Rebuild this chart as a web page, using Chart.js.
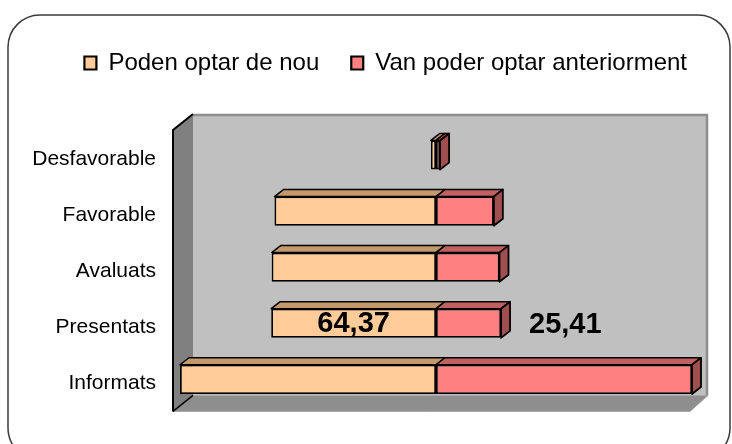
<!DOCTYPE html>
<html><head><meta charset="utf-8">
<script src="https://cdn.jsdelivr.net/npm/chart.js@4/dist/chart.umd.min.js"></script>
<style>html,body{margin:0;padding:0;background:#fff}#wrap{width:732px;height:444px;position:relative}</style>
</head><body><div id="wrap"><canvas id="c" width="732" height="444"></canvas></div>
<script>
const categories = ['Desfavorable', 'Favorable', 'Avaluats', 'Presentats', 'Informats'];
const podenValues = [2.0, 63.1, 64.2, 64.37, 100];
const vanValues = [1.6, 22.6, 24.8, 25.41, 100];
const seriesNames = ['Poden optar de nou', 'Van poder optar anteriorment'];
const labelledCategory = 'Presentats';
const splitValue = 100;
const axisMax = 200;

// invisible spacer so each bar meets at the common split point
const spacer = podenValues.map(v => splitValue - v);

const FONT = '"Liberation Sans", Arial, sans-serif';
const DX = 9, DY = 7;

function poly(ctx, pts, fill, lw) {
  ctx.beginPath();
  ctx.moveTo(pts[0][0], pts[0][1]);
  for (let i = 1; i < pts.length; i++) ctx.lineTo(pts[i][0], pts[i][1]);
  ctx.closePath();
  ctx.fillStyle = fill; ctx.fill();
  ctx.lineWidth = lw || 1.5; ctx.strokeStyle = '#000'; ctx.lineJoin = 'round'; ctx.stroke();
}

const walls = {
  id: 'walls',
  beforeDraw(chart) {
    const {ctx, chartArea: a} = chart;
    ctx.save();
    ctx.fillStyle = '#fff'; ctx.fillRect(0, 0, chart.width, chart.height);
    ctx.beginPath();
    ctx.roundRect(8, 15, 722, 445, 32);
    ctx.strokeStyle = '#3a3a3a'; ctx.lineWidth = 1.5; ctx.stroke();

    const fl = a.left - 7, bl = a.left + 13, ft = a.top + 3, bt = a.top - 13;
    const fb = a.bottom + 4, bb = a.bottom - 12, br = a.right + 16, fr = a.right - 2;
    // back wall
    ctx.fillStyle = '#C0C0C0';
    ctx.fillRect(bl, bt, br - bl, bb - bt);
    ctx.strokeStyle = '#8E8E8E'; ctx.lineWidth = 2.5;
    ctx.beginPath(); ctx.moveTo(bl, bt + 1); ctx.lineTo(br - 1, bt + 1); ctx.lineTo(br - 1, bb); ctx.stroke();
    // floor
    ctx.beginPath();
    ctx.moveTo(fl, fb); ctx.lineTo(bl, bb); ctx.lineTo(br, bb); ctx.lineTo(fr, fb); ctx.closePath();
    ctx.fillStyle = '#8E8E8E'; ctx.fill();
    ctx.strokeStyle = '#A6A6A6'; ctx.lineWidth = 1; ctx.stroke();
    // left wall
    ctx.beginPath();
    ctx.moveTo(fl, ft); ctx.lineTo(bl, bt); ctx.lineTo(bl, bb); ctx.lineTo(fl, fb); ctx.closePath();
    ctx.fillStyle = '#808080'; ctx.fill();
    ctx.strokeStyle = '#000'; ctx.lineWidth = 2;
    ctx.beginPath(); ctx.moveTo(fl, fb); ctx.lineTo(fl, ft); ctx.lineTo(bl, bt); ctx.stroke();
    ctx.lineWidth = 1.5;
    ctx.beginPath(); ctx.moveTo(fl, fb); ctx.lineTo(bl, bb); ctx.stroke();
    ctx.restore();
  }
};

const faces = {
  id: 'faces',
  afterDatasetsDraw(chart) {
    const ctx = chart.ctx;
    const tops = ['#C49A6C', '#C06060'];
    const sideColor = '#A04F4F';
    const metas = [1, 2].map(i => chart.getDatasetMeta(i));
    ctx.save();
    categories.forEach((c, j) => {
      metas.forEach((m, k) => {
        const p = m.data[j].getProps(['x', 'y', 'base', 'height'], true);
        const t = p.y - p.height / 2;
        poly(ctx, [[p.base, t], [p.base + DX, t - DY], [p.x + DX, t - DY], [p.x, t]], tops[k], 1.5);
      });
      const p = metas[1].data[j].getProps(['x', 'y', 'base', 'height'], true);
      const t = p.y - p.height / 2, b = p.y + p.height / 2;
      poly(ctx, [[p.x, t], [p.x + DX, t - DY], [p.x + DX, b - DY], [p.x, b]], sideColor, 1.8);

      if (c === labelledCategory) {
        const fmt = v => v.toFixed(2).replace('.', ',');
        const q = metas[0].data[j].getProps(['x', 'y', 'base'], true);
        ctx.fillStyle = '#000';
        ctx.font = 'bold 29px ' + FONT;
        ctx.textBaseline = 'middle';
        ctx.textAlign = 'center';
        ctx.fillText(fmt(podenValues[j]), (q.x + q.base) / 2, q.y + 1);
        ctx.textAlign = 'left';
        ctx.fillText(fmt(vanValues[j]), p.x + 28, p.y + 2);
      }
    });
    ctx.restore();
  }
};

new Chart(document.getElementById('c'), {
  type: 'bar',
  data: {
    labels: categories,
    datasets: [
      {label: 'spacer', data: spacer, backgroundColor: 'rgba(0,0,0,0)', borderWidth: 0},
      {label: seriesNames[0], data: podenValues, backgroundColor: '#FFCC99', borderColor: '#000', borderWidth: 1.8, borderSkipped: false},
      {label: seriesNames[1], data: vanValues, backgroundColor: '#FF8080', borderColor: '#000', borderWidth: 1.8, borderSkipped: false}
    ]
  },
  options: {
    indexAxis: 'y',
    responsive: false,
    devicePixelRatio: 1,
    animation: false,
    datasets: {bar: {barPercentage: 0.52, categoryPercentage: 1}},
    layout: {padding: {left: 0, right: 13, top: 19, bottom: 36}},
    scales: {
      x: {
        position: 'top', stacked: true, min: 0, max: axisMax,
        grid: {display: false, drawTicks: false}, border: {display: false},
        ticks: {display: false},
        afterFit(s) { s.height = 42; }
      },
      y: {
        stacked: true,
        grid: {display: false, drawTicks: false}, border: {display: false},
        ticks: {color: '#000', font: {family: FONT, size: 21}, padding: 24, labelOffset: 4},
        afterFit(s) { s.width = 180; }
      },
      yRight: {
        type: 'category', position: 'right',
        grid: {display: false, drawTicks: false}, border: {display: false},
        ticks: {display: false},
        afterFit(s) { s.width = 27; }
      }
    },
    plugins: {
      legend: {
        position: 'top',
        align: 'end',
        labels: {
          filter: item => item.datasetIndex > 0,
          generateLabels(chart) {
            return Chart.defaults.plugins.legend.labels.generateLabels(chart)
              .map(it => Object.assign(it, {lineWidth: 2.2}));
          },
          color: '#000',
          font: {family: FONT, size: 24},
          boxWidth: 12, boxHeight: 13, padding: 32
        }
      },
      tooltip: {enabled: false}
    }
  },
  plugins: [walls, faces]
});
</script>
</body></html>
